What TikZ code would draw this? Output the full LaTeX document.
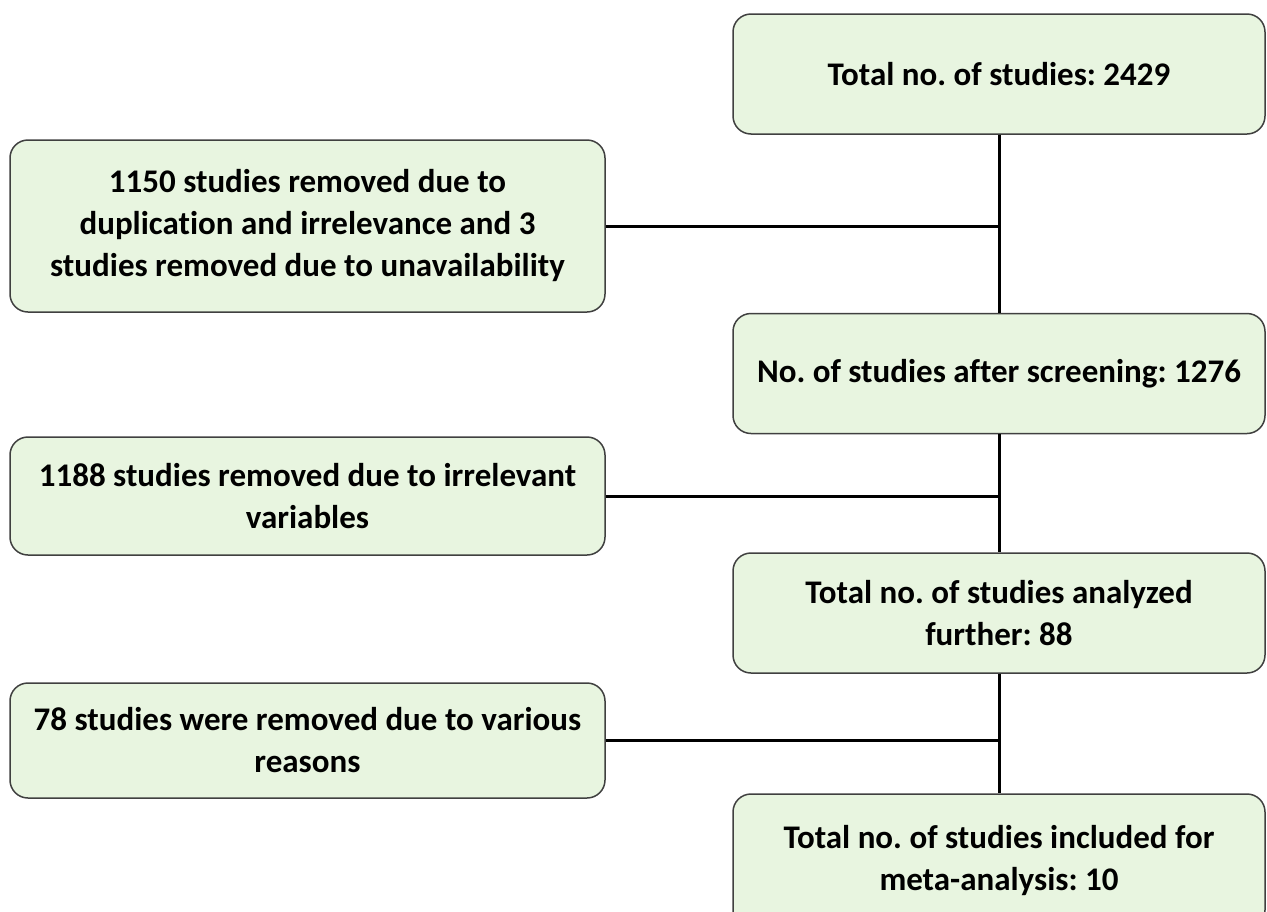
\documentclass[tikz,border=0pt]{standalone}
\usepackage{fontspec}
\setmainfont[Ligatures=NoCommon]{Carlito}
\usetikzlibrary{positioning}
\definecolor{boxfill}{RGB}{232,245,224}
\definecolor{boxline}{RGB}{64,64,64}

\begin{document}
\frenchspacing
\begin{tikzpicture}[x=1pt, y=-1pt, box/.style={rectangle, draw=boxline, line width=1.5pt, fill=boxfill, rounded corners=18pt, align=center, inner sep=0pt, font=\fontsize{33}{42}\selectfont\bfseries}, rbox/.style={box, minimum width=532pt, minimum height=120pt}, lbox/.style={box, minimum width=595pt}, link/.style={line width=3pt}]
        \useasboundingbox (0,0) rectangle (1267,911);
        \node[rbox] (total) at (999,74) {Total no. of studies: 2429};
        \node[rbox] (screened) at (999,373.5) {No. of studies after screening: 1276};
        \node[rbox] (analyzed) at (999,613) {Total no. of studies analyzed\\further: 88};
        \node[rbox, minimum height=134pt] (included) at (999,861) {Total no. of studies included for\\meta-analysis: 10};
        \node[lbox, minimum height=172pt] (dup) at (307.5,226) {1150 studies removed due to\\duplication and irrelevance and 3\\studies removed due to unavailability};
        \node[lbox, minimum height=118pt] (irrel) at (307.5,496) {1188 studies removed due to irrelevant\\variables};
        \node[lbox, minimum height=115pt] (various) at (307.5,740.5) {78 studies were removed due to various\\reasons};
        \draw[link] (total) -- (screened);
        \draw[link] (screened) -- (analyzed);
        \draw[link] (analyzed) -- (included);
        \draw[link] (dup.east) -- (dup.east -| total.south);
        \draw[link] (irrel.east) -- (irrel.east -| total.south);
        \draw[link] (various.east) -- (various.east -| total.south);
      \end{tikzpicture}
\end{document}
